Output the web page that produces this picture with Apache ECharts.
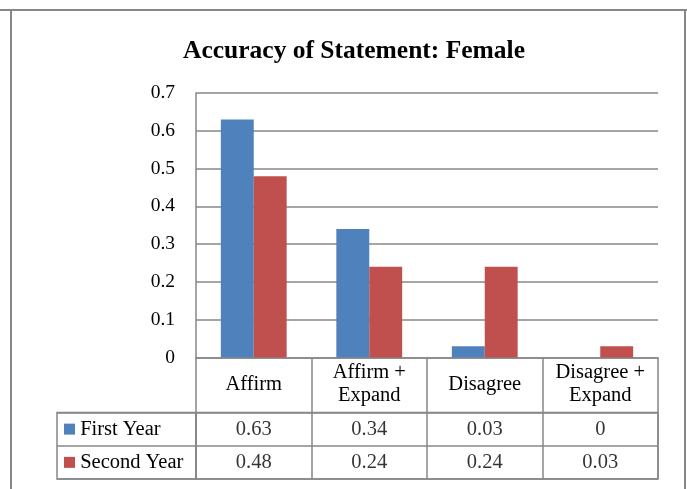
<!DOCTYPE html>
<html>
<head>
<meta charset="utf-8">
<script src="https://cdn.jsdelivr.net/npm/echarts@6/dist/echarts.min.js"></script>
<style>
  html, body { margin: 0; padding: 0; background: #fff; }
  #chart { width: 687px; height: 489px; }
</style>
</head>
<body>
<div id="chart"></div>
<script>
// chart data
const categories = ['Affirm', 'Affirm +\nExpand', 'Disagree', 'Disagree +\nExpand'];
const seriesNames = ['First Year', 'Second Year'];
const firstYear = [0.63, 0.34, 0.03, 0];
const secondYear = [0.48, 0.24, 0.24, 0.03];
const colors = ['#4F81BD', '#C0504D'];

const font = 'Liberation Serif';
const gray = '#878787';
const lineW = 1.5;

// cells of the data table: [category index, row index, value]
const tableCells = [];
[firstYear, secondYear].forEach((row, r) => {
  row.forEach((v, c) => tableCells.push([c, r, v]));
});

const chart = echarts.init(document.getElementById('chart'));

const option = {
  animation: false,
  backgroundColor: '#fff',
  title: {
    text: 'Accuracy of Statement: Female',
    left: 349,
    top: 33,
    textAlign: 'center',
    textStyle: { fontFamily: font, fontSize: 25.5, fontWeight: 'bold', color: '#000' }
  },
  graphic: [
    { type: 'line', shape: { x1: 0, y1: 10, x2: 687, y2: 10 }, style: { stroke: gray, lineWidth: 2 } },
    { type: 'line', shape: { x1: 11, y1: 10, x2: 11, y2: 489 }, style: { stroke: gray, lineWidth: 2 } },
    { type: 'line', shape: { x1: 685, y1: 10, x2: 685, y2: 489 }, style: { stroke: gray, lineWidth: 2 } }
  ],
  grid: [
    { left: 196, top: 93, width: 462, height: 264.5 },
    { left: 196, top: 412.5, width: 462, height: 66.5, show: true, borderColor: gray, borderWidth: lineW },
    { left: 57, top: 412.5, width: 139, height: 66.5, show: true, borderColor: gray, borderWidth: lineW }
  ],
  xAxis: [
    {
      gridIndex: 0,
      type: 'category',
      data: categories,
      axisLine: { lineStyle: { color: gray, width: lineW } },
      axisTick: { show: true, interval: 0, length: 55, lineStyle: { color: gray, width: lineW } },
      axisLabel: {
        interval: 0,
        margin: 27,
        verticalAlign: 'middle',
        lineHeight: 23,
        fontFamily: font,
        fontSize: 20.5,
        color: '#000'
      }
    },
    {
      gridIndex: 1,
      type: 'category',
      data: categories,
      axisLine: { show: false },
      axisTick: { show: false },
      axisLabel: { show: false },
      splitLine: { show: true, interval: 0, lineStyle: { color: gray, width: lineW } }
    },
    {
      gridIndex: 2,
      type: 'category',
      data: [''],
      axisLine: { show: false },
      axisTick: { show: false },
      axisLabel: { show: false }
    }
  ],
  yAxis: [
    {
      gridIndex: 0,
      type: 'value',
      min: 0,
      max: 0.7,
      interval: 0.1,
      axisLine: { show: true, lineStyle: { color: gray, width: lineW } },
      axisTick: { show: false },
      axisLabel: { margin: 21, fontFamily: font, fontSize: 19.5, color: '#000' },
      splitLine: { lineStyle: { color: gray, width: lineW } }
    },
    {
      gridIndex: 1,
      type: 'category',
      inverse: true,
      data: seriesNames,
      axisLine: { show: false },
      axisTick: { show: false },
      axisLabel: { show: false },
      splitLine: { show: true, interval: 0, lineStyle: { color: gray, width: lineW } }
    },
    {
      gridIndex: 2,
      type: 'category',
      inverse: true,
      data: seriesNames,
      axisLine: { show: false },
      axisTick: { show: false },
      splitLine: { show: true, interval: 0, lineStyle: { color: gray, width: lineW } },
      axisLabel: {
        inside: true,
        margin: 7,
        fontFamily: font,
        fontSize: 20.5,
        color: '#000',
        formatter: (name, i) => '{k' + i + '|}' + ' ' + name,
        rich: {
          k0: { width: 11, height: 11, backgroundColor: colors[0] },
          k1: { width: 11, height: 11, backgroundColor: colors[1] }
        }
      }
    }
  ],
  series: [
    {
      name: seriesNames[0],
      type: 'bar',
      xAxisIndex: 0,
      yAxisIndex: 0,
      data: firstYear,
      barGap: 0,
      barCategoryGap: '43%',
      itemStyle: { color: colors[0] }
    },
    {
      name: seriesNames[1],
      type: 'bar',
      xAxisIndex: 0,
      yAxisIndex: 0,
      data: secondYear,
      barGap: 0,
      barCategoryGap: '43%',
      itemStyle: { color: colors[1] }
    },
    {
      name: 'table',
      type: 'scatter',
      xAxisIndex: 1,
      yAxisIndex: 1,
      data: tableCells,
      symbolSize: 1,
      itemStyle: { color: 'rgba(0,0,0,0)' },
      label: {
        show: true,
        position: 'inside',
        fontFamily: font,
        fontSize: 20.5,
        color: '#000',
        formatter: (p) => String(p.data[2])
      },
      silent: true
    }
  ]
};

chart.setOption(option);
</script>
</body>
</html>
